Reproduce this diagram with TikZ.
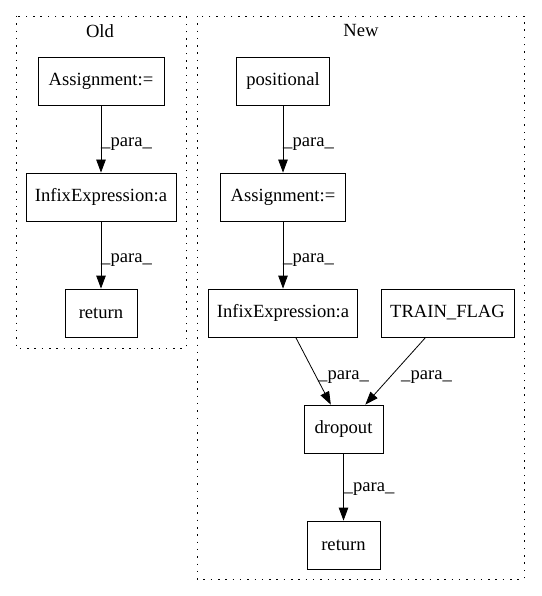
\documentclass[tikz,border=0pt]{standalone}
\usepackage{fontspec}
\setmainfont{Liberation Serif}
\usetikzlibrary{arrows.meta}
\begin{document}
\begin{tikzpicture}[x=1pt,y=-1pt,
  box/.style={draw,line width=0.8pt,inner sep=0pt,minimum height=48pt,font=\fontsize{18.6}{21}\selectfont},
  cluster/.style={draw,line width=0.9pt,dash pattern=on 1.5pt off 5.8pt},
  edge/.style={line width=0.8pt,-{Triangle[length=13pt,width=9.5pt]}},
  lab/.style={font=\fontsize{18.6}{21}\selectfont,anchor=west,inner sep=0pt}]
\useasboundingbox (0,0) rectangle (541,596);
% clusters
\draw[cluster] (16,16) rectangle (186,348);
\node[font=\fontsize{18.6}{21}\selectfont] (oldlab) at (100,31) {Old};
\draw[cluster] (197,16) rectangle (524,579);
\node[font=\fontsize{18.6}{21}\selectfont] (newlab) at (361,31) {New};
% old nodes
\node[box,minimum width=126pt] (oa) at (101,81) {Assignment:=};
\node[box,minimum width=150pt] (oi) at (101,197) {InfixExpression:a};
\node[box,minimum width=72pt] (or) at (101,313) {return};
% new nodes
\node[box,minimum width=93pt] (np) at (283,81) {positional};
\node[box,minimum width=125pt] (na) at (283,197) {Assignment:=};
\node[box,minimum width=149pt] (ni) at (283,313) {InfixExpression:a};
\node[box,minimum width=133pt] (nt) at (447.5,313) {TRAIN\_FLAG};
\node[box,minimum width=79pt] (nd) at (343.5,429) {dropout};
\node[box,minimum width=73pt] (nr) at (343.5,545) {return};
% edges
\draw[edge] (oa) -- (oi);
\node[lab] (l1) at (101,144) {\_para\_};
\draw[edge] (oi) -- (or);
\node[lab] (l2) at (101,260) {\_para\_};
\draw[edge] (np) -- (na);
\node[lab] (l3) at (283,144) {\_para\_};
\draw[edge] (na) -- (ni);
\node[lab] (l4) at (283,260) {\_para\_};
\draw[edge] (ni) -- (nd);
\node[lab] (l5) at (318,377) {\_para\_};
\draw[edge] (nt) -- (nd);
\node[lab] (l6) at (401,377) {\_para\_};
\draw[edge] (nd) -- (nr);
\node[lab] (l7) at (343.5,489) {\_para\_};
\end{tikzpicture}
\end{document}
